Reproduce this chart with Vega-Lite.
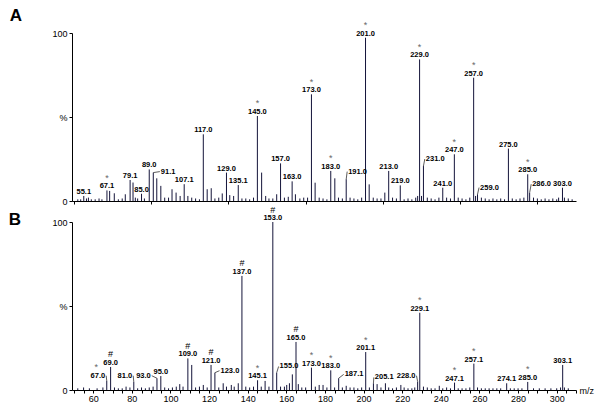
{
"$schema": "https://vega.github.io/schema/vega-lite/v6.json",
"background": "white",
"padding": {"left": 8, "top": 6, "right": 4, "bottom": 18},
"config": {
  "view": {"stroke": null},
  "font": "Liberation Sans",
  "axis": {"domainColor": "#000", "tickColor": "#000", "labelColor": "#000", "labelFont": "Liberation Sans", "labelFontSize": 9, "grid": false, "tickSize": 3, "domainWidth": 1, "tickWidth": 1, "labelPadding": 2}
},
"datasets": {
"peaks": [
{"p":"A","mz":52,"pct":1},{"p":"A","mz":53.5,"pct":1},{"p":"A","mz":55.1,"pct":3},{"p":"A","mz":56.5,"pct":1.5},{"p":"A","mz":57.5,"pct":2},{"p":"A","mz":59,"pct":1},{"p":"A","mz":61,"pct":1},{"p":"A","mz":63,"pct":1.5},{"p":"A","mz":64.5,"pct":1},{"p":"A","mz":67.1,"pct":6.3},{"p":"A","mz":68.5,"pct":6},{"p":"A","mz":70.9,"pct":4.6},{"p":"A","mz":73,"pct":1},{"p":"A","mz":75,"pct":1.5},{"p":"A","mz":76.6,"pct":4},{"p":"A","mz":79.1,"pct":12.5},{"p":"A","mz":80.6,"pct":11},{"p":"A","mz":81.8,"pct":2},{"p":"A","mz":83,"pct":1.5},{"p":"A","mz":85,"pct":4.3},{"p":"A","mz":86.5,"pct":1.5},{"p":"A","mz":89,"pct":18.8},{"p":"A","mz":91.1,"pct":16.9},{"p":"A","mz":92.9,"pct":13.5},{"p":"A","mz":95,"pct":9},{"p":"A","mz":97,"pct":2},{"p":"A","mz":99,"pct":2},{"p":"A","mz":100.8,"pct":7},{"p":"A","mz":102.9,"pct":5},{"p":"A","mz":105,"pct":3},{"p":"A","mz":107.1,"pct":10},{"p":"A","mz":109,"pct":3},{"p":"A","mz":111,"pct":2},{"p":"A","mz":113,"pct":1.5},{"p":"A","mz":115,"pct":1},{"p":"A","mz":117,"pct":39.7},{"p":"A","mz":119,"pct":7},{"p":"A","mz":121.1,"pct":7.6},{"p":"A","mz":123,"pct":1.5},{"p":"A","mz":125,"pct":2},{"p":"A","mz":126.8,"pct":4.5},{"p":"A","mz":129,"pct":16.9},{"p":"A","mz":130.7,"pct":3.5},{"p":"A","mz":132.7,"pct":3},{"p":"A","mz":135.1,"pct":9.5},{"p":"A","mz":137,"pct":1.5},{"p":"A","mz":139,"pct":1.5},{"p":"A","mz":141,"pct":1},{"p":"A","mz":143,"pct":2},{"p":"A","mz":145,"pct":50.6},{"p":"A","mz":147.2,"pct":16.9},{"p":"A","mz":149.3,"pct":3},{"p":"A","mz":151,"pct":1.5},{"p":"A","mz":153,"pct":1.5},{"p":"A","mz":155,"pct":4},{"p":"A","mz":157,"pct":22.4},{"p":"A","mz":159,"pct":2},{"p":"A","mz":161,"pct":2.5},{"p":"A","mz":163,"pct":11.7},{"p":"A","mz":164.7,"pct":4},{"p":"A","mz":167,"pct":1.5},{"p":"A","mz":169,"pct":2},{"p":"A","mz":171,"pct":2},{"p":"A","mz":173,"pct":63.5},{"p":"A","mz":174.9,"pct":10.9},{"p":"A","mz":177,"pct":2},{"p":"A","mz":179,"pct":1.5},{"p":"A","mz":181,"pct":1},{"p":"A","mz":183,"pct":17.9},{"p":"A","mz":185.1,"pct":13.5},{"p":"A","mz":187,"pct":2},{"p":"A","mz":189,"pct":1.5},{"p":"A","mz":191,"pct":13},{"p":"A","mz":193,"pct":2},{"p":"A","mz":195,"pct":1.5},{"p":"A","mz":197,"pct":1},{"p":"A","mz":199,"pct":2},{"p":"A","mz":201,"pct":97.2},{"p":"A","mz":202.9,"pct":9.9},{"p":"A","mz":205,"pct":2},{"p":"A","mz":207,"pct":1.5},{"p":"A","mz":209,"pct":1.5},{"p":"A","mz":211,"pct":5},{"p":"A","mz":213,"pct":17.9},{"p":"A","mz":215,"pct":2},{"p":"A","mz":217,"pct":1.5},{"p":"A","mz":219,"pct":9.3},{"p":"A","mz":221,"pct":1},{"p":"A","mz":223,"pct":1.5},{"p":"A","mz":225,"pct":1},{"p":"A","mz":227,"pct":2},{"p":"A","mz":228,"pct":3},{"p":"A","mz":229,"pct":84.3},{"p":"A","mz":230,"pct":3},{"p":"A","mz":231,"pct":20.8},{"p":"A","mz":233,"pct":2},{"p":"A","mz":235,"pct":1.5},{"p":"A","mz":237,"pct":1},{"p":"A","mz":239,"pct":2},{"p":"A","mz":241,"pct":7.9},{"p":"A","mz":243,"pct":2},{"p":"A","mz":245,"pct":1.5},{"p":"A","mz":247,"pct":27.8},{"p":"A","mz":249,"pct":2},{"p":"A","mz":251,"pct":1.5},{"p":"A","mz":253,"pct":1},{"p":"A","mz":255,"pct":2},{"p":"A","mz":257,"pct":73.4},{"p":"A","mz":258,"pct":3},{"p":"A","mz":259,"pct":4},{"p":"A","mz":261,"pct":2},{"p":"A","mz":263,"pct":1.5},{"p":"A","mz":265,"pct":1},{"p":"A","mz":267,"pct":1.5},{"p":"A","mz":269,"pct":1},{"p":"A","mz":271,"pct":1.5},{"p":"A","mz":273,"pct":1},{"p":"A","mz":275,"pct":31.2},{"p":"A","mz":277,"pct":1.5},{"p":"A","mz":279,"pct":1},{"p":"A","mz":281,"pct":1.5},{"p":"A","mz":283,"pct":2},{"p":"A","mz":285,"pct":15.9},{"p":"A","mz":286,"pct":5},{"p":"A","mz":288,"pct":2},{"p":"A","mz":290,"pct":1.5},{"p":"A","mz":292,"pct":1},{"p":"A","mz":294,"pct":1.5},{"p":"A","mz":296,"pct":1},{"p":"A","mz":298,"pct":1.5},{"p":"A","mz":300,"pct":1},{"p":"A","mz":301,"pct":2},{"p":"A","mz":303,"pct":7.9},{"p":"A","mz":304,"pct":2},{"p":"A","mz":306,"pct":1.5},{"p":"A","mz":308,"pct":1},
{"p":"B","mz":52,"pct":1},{"p":"B","mz":55,"pct":1.5},{"p":"B","mz":58,"pct":1},{"p":"B","mz":62,"pct":1},{"p":"B","mz":65,"pct":1.5},{"p":"B","mz":67,"pct":5.4},{"p":"B","mz":69,"pct":13.7},{"p":"B","mz":71,"pct":1.5},{"p":"B","mz":73,"pct":1},{"p":"B","mz":75,"pct":1},{"p":"B","mz":77,"pct":2},{"p":"B","mz":79,"pct":1.5},{"p":"B","mz":81,"pct":4.8},{"p":"B","mz":83,"pct":1},{"p":"B","mz":85,"pct":1.5},{"p":"B","mz":87,"pct":1},{"p":"B","mz":89,"pct":1.5},{"p":"B","mz":91,"pct":2},{"p":"B","mz":93,"pct":7},{"p":"B","mz":95,"pct":8.3},{"p":"B","mz":97,"pct":1.5},{"p":"B","mz":99,"pct":1},{"p":"B","mz":101,"pct":1.5},{"p":"B","mz":103,"pct":2},{"p":"B","mz":104.8,"pct":3.5},{"p":"B","mz":106.5,"pct":2},{"p":"B","mz":109,"pct":18.8},{"p":"B","mz":111,"pct":14.9},{"p":"B","mz":113,"pct":1.5},{"p":"B","mz":115,"pct":2},{"p":"B","mz":117,"pct":3},{"p":"B","mz":119,"pct":1.5},{"p":"B","mz":121,"pct":14.9},{"p":"B","mz":123,"pct":10.3},{"p":"B","mz":125,"pct":1.5},{"p":"B","mz":127.3,"pct":4},{"p":"B","mz":129,"pct":2},{"p":"B","mz":131.5,"pct":3},{"p":"B","mz":133,"pct":2},{"p":"B","mz":135.1,"pct":4},{"p":"B","mz":137,"pct":67.9},{"p":"B","mz":139,"pct":2},{"p":"B","mz":141,"pct":1.5},{"p":"B","mz":143,"pct":2},{"p":"B","mz":145.1,"pct":5.8},{"p":"B","mz":147,"pct":2},{"p":"B","mz":149,"pct":5.4},{"p":"B","mz":151,"pct":2},{"p":"B","mz":153,"pct":100},{"p":"B","mz":155,"pct":10.3},{"p":"B","mz":157,"pct":2},{"p":"B","mz":159,"pct":2},{"p":"B","mz":160.2,"pct":3},{"p":"B","mz":161.6,"pct":4},{"p":"B","mz":163.1,"pct":9.3},{"p":"B","mz":165,"pct":28.6},{"p":"B","mz":166.2,"pct":3.5},{"p":"B","mz":168,"pct":1.5},{"p":"B","mz":170,"pct":1.5},{"p":"B","mz":173,"pct":13.3},{"p":"B","mz":175,"pct":2},{"p":"B","mz":177,"pct":3},{"p":"B","mz":179,"pct":3},{"p":"B","mz":181,"pct":1.5},{"p":"B","mz":183,"pct":11.7},{"p":"B","mz":185,"pct":1.5},{"p":"B","mz":187.1,"pct":7},{"p":"B","mz":189,"pct":1.5},{"p":"B","mz":191,"pct":2.5},{"p":"B","mz":193,"pct":1.5},{"p":"B","mz":195,"pct":1.5},{"p":"B","mz":197,"pct":1},{"p":"B","mz":199,"pct":1.5},{"p":"B","mz":201.1,"pct":22.6},{"p":"B","mz":203,"pct":1.5},{"p":"B","mz":205.1,"pct":4},{"p":"B","mz":207,"pct":3.5},{"p":"B","mz":209,"pct":1.5},{"p":"B","mz":211.3,"pct":4},{"p":"B","mz":213,"pct":1.5},{"p":"B","mz":215,"pct":1},{"p":"B","mz":217,"pct":1.5},{"p":"B","mz":219.3,"pct":3},{"p":"B","mz":221,"pct":1.5},{"p":"B","mz":223,"pct":1},{"p":"B","mz":225,"pct":1},{"p":"B","mz":226.5,"pct":1.5},{"p":"B","mz":228,"pct":5},{"p":"B","mz":229.1,"pct":46},{"p":"B","mz":231,"pct":2},{"p":"B","mz":233,"pct":1.5},{"p":"B","mz":235,"pct":1},{"p":"B","mz":237,"pct":1},{"p":"B","mz":239.2,"pct":2.5},{"p":"B","mz":241,"pct":1},{"p":"B","mz":243,"pct":1.5},{"p":"B","mz":245,"pct":1},{"p":"B","mz":247.1,"pct":4.4},{"p":"B","mz":249,"pct":1},{"p":"B","mz":251,"pct":1},{"p":"B","mz":253,"pct":1},{"p":"B","mz":255,"pct":1.5},{"p":"B","mz":257.1,"pct":15.7},{"p":"B","mz":259,"pct":1.5},{"p":"B","mz":261,"pct":1},{"p":"B","mz":263,"pct":1},{"p":"B","mz":265,"pct":1},{"p":"B","mz":267,"pct":1},{"p":"B","mz":269,"pct":1},{"p":"B","mz":271,"pct":1},{"p":"B","mz":274.1,"pct":4},{"p":"B","mz":276,"pct":1},{"p":"B","mz":278,"pct":1},{"p":"B","mz":280,"pct":1},{"p":"B","mz":282,"pct":1},{"p":"B","mz":285,"pct":4.8},{"p":"B","mz":288,"pct":1},{"p":"B","mz":291,"pct":1},{"p":"B","mz":294,"pct":1},{"p":"B","mz":297,"pct":1},{"p":"B","mz":300,"pct":1},{"p":"B","mz":302,"pct":1.5},{"p":"B","mz":303.1,"pct":14.9},{"p":"B","mz":304,"pct":1.5},{"p":"B","mz":306,"pct":1}
],
"labels": [
{"p":"A","mz":55.1,"pct":3,"label":"55.1","tag":"","lmz":55.1,"lpct":3},
{"p":"A","mz":67.1,"pct":6.3,"label":"67.1","tag":"*","lmz":67.1,"lpct":6.3},
{"p":"A","mz":79.1,"pct":12.5,"label":"79.1","tag":"","lmz":79.1,"lpct":12.5},
{"p":"A","mz":85,"pct":4.3,"label":"85.0","tag":"","lmz":85,"lpct":4.3},
{"p":"A","mz":89,"pct":18.8,"label":"89.0","tag":"","lmz":89,"lpct":18.8},
{"p":"A","mz":91.1,"pct":16.9,"label":"91.1","tag":"","lmz":94.5,"lpct":17.5},
{"p":"A","mz":107.1,"pct":10,"label":"107.1","tag":"","lmz":107.1,"lpct":10},
{"p":"A","mz":117,"pct":39.7,"label":"117.0","tag":"","lmz":117,"lpct":39.7},
{"p":"A","mz":129,"pct":16.9,"label":"129.0","tag":"","lmz":129,"lpct":16.9},
{"p":"A","mz":135.1,"pct":9.5,"label":"135.1","tag":"","lmz":135.1,"lpct":9.5},
{"p":"A","mz":145,"pct":50.6,"label":"145.0","tag":"*","lmz":145,"lpct":50.6},
{"p":"A","mz":157,"pct":22.4,"label":"157.0","tag":"","lmz":157,"lpct":22.4},
{"p":"A","mz":163,"pct":11.7,"label":"163.0","tag":"","lmz":163,"lpct":11.7},
{"p":"A","mz":173,"pct":63.5,"label":"173.0","tag":"*","lmz":173,"lpct":63.5},
{"p":"A","mz":183,"pct":17.9,"label":"183.0","tag":"*","lmz":183,"lpct":17.9},
{"p":"A","mz":191,"pct":13,"label":"191.0","tag":"","lmz":191.5,"lpct":17.5},
{"p":"A","mz":201,"pct":97.2,"label":"201.0","tag":"*","lmz":201,"lpct":97.2},
{"p":"A","mz":213,"pct":17.9,"label":"213.0","tag":"","lmz":213,"lpct":17.9},
{"p":"A","mz":219,"pct":9.3,"label":"219.0","tag":"","lmz":219,"lpct":9.3},
{"p":"A","mz":229,"pct":84.3,"label":"229.0","tag":"*","lmz":229,"lpct":84.3},
{"p":"A","mz":231,"pct":20.8,"label":"231.0","tag":"","lmz":231.7,"lpct":25},
{"p":"A","mz":241,"pct":7.9,"label":"241.0","tag":"","lmz":241,"lpct":7.9},
{"p":"A","mz":247,"pct":27.8,"label":"247.0","tag":"*","lmz":247,"lpct":27.8},
{"p":"A","mz":257,"pct":73.4,"label":"257.0","tag":"*","lmz":257,"lpct":73.4},
{"p":"A","mz":259,"pct":4,"label":"259.0","tag":"","lmz":259.8,"lpct":8},
{"p":"A","mz":275,"pct":31.2,"label":"275.0","tag":"","lmz":275,"lpct":31.2},
{"p":"A","mz":285,"pct":15.9,"label":"285.0","tag":"*","lmz":285,"lpct":15.9},
{"p":"A","mz":286,"pct":5,"label":"286.0","tag":"","lmz":286.8,"lpct":10},
{"p":"A","mz":303,"pct":7.9,"label":"303.0","tag":"","lmz":303,"lpct":7.9},
{"p":"B","mz":67,"pct":5.4,"label":"67.0","tag":"*","lmz":66.7,"lpct":8.5},
{"p":"B","mz":69,"pct":13.7,"label":"69.0","tag":"#","lmz":69,"lpct":13.7},
{"p":"B","mz":81,"pct":4.8,"label":"81.0","tag":"","lmz":80.7,"lpct":8.5},
{"p":"B","mz":93,"pct":7,"label":"93.0","tag":"","lmz":90.3,"lpct":8.5},
{"p":"B","mz":95,"pct":8.3,"label":"95.0","tag":"","lmz":95,"lpct":8.3},
{"p":"B","mz":109,"pct":18.8,"label":"109.0","tag":"#","lmz":109,"lpct":18.8},
{"p":"B","mz":121,"pct":14.9,"label":"121.0","tag":"#","lmz":121,"lpct":14.9},
{"p":"B","mz":123,"pct":10.3,"label":"123.0","tag":"","lmz":125.4,"lpct":11.5},
{"p":"B","mz":137,"pct":67.9,"label":"137.0","tag":"#","lmz":137,"lpct":67.9},
{"p":"B","mz":145.1,"pct":5.8,"label":"145.1","tag":"*","lmz":145.1,"lpct":5.8},
{"p":"B","mz":153,"pct":100,"label":"153.0","tag":"#","lmz":153,"lpct":100},
{"p":"B","mz":155,"pct":10.3,"label":"155.0","tag":"","lmz":156,"lpct":14},
{"p":"B","mz":165,"pct":28.6,"label":"165.0","tag":"#","lmz":165,"lpct":28.6},
{"p":"B","mz":173,"pct":13.3,"label":"173.0","tag":"*","lmz":173,"lpct":13.3},
{"p":"B","mz":183,"pct":11.7,"label":"183.0","tag":"*","lmz":183,"lpct":11.7},
{"p":"B","mz":187.1,"pct":7,"label":"187.1","tag":"","lmz":189.7,"lpct":9.3},
{"p":"B","mz":201.1,"pct":22.6,"label":"201.1","tag":"*","lmz":201.1,"lpct":22.6},
{"p":"B","mz":205.1,"pct":4,"label":"205.1","tag":"","lmz":205.3,"lpct":7.5},
{"p":"B","mz":228,"pct":5,"label":"228.0","tag":"","lmz":227.4,"lpct":8.5},
{"p":"B","mz":229.1,"pct":46,"label":"229.1","tag":"*","lmz":229.1,"lpct":46},
{"p":"B","mz":247.1,"pct":4.4,"label":"247.1","tag":"*","lmz":247.1,"lpct":4.4},
{"p":"B","mz":257.1,"pct":15.7,"label":"257.1","tag":"*","lmz":257.1,"lpct":15.7},
{"p":"B","mz":274.1,"pct":4,"label":"274.1","tag":"","lmz":274.1,"lpct":4},
{"p":"B","mz":285,"pct":4.8,"label":"285.0","tag":"*","lmz":285,"lpct":4.8},
{"p":"B","mz":303.1,"pct":14.9,"label":"303.1","tag":"","lmz":303.1,"lpct":14.9}
]
},
"spacing": 21,
"bounds": "flush",
"vconcat": [
{
 "width": 504, "height": 168,
 "layer": [
  {"data": {"name": "peaks"}, "transform": [{"filter": "datum.p == 'A'"}],
   "mark": {"type": "rule", "color": "#14143a", "strokeWidth": 1},
   "encoding": {
    "x": {"field": "mz", "type": "quantitative", "scale": {"domain": [49, 310], "nice": false, "zero": false},
          "axis": {"values": [50,55,60,65,70,75,80,85,90,95,100,105,110,115,120,125,130,135,140,145,150,155,160,165,170,175,180,185,190,195,200,205,210,215,220,225,230,235,240,245,250,255,260,265,270,275,280,285,290,295,300,305,310], "labels": false, "title": null}},
    "y": {"field": "pct", "type": "quantitative", "scale": {"domain": [0, 100], "nice": false},
          "axis": {"values": [0, 50, 100], "labelExpr": "datum.value == 50 ? '%' : datum.label", "title": "A", "titleAngle": 0, "titleX": -56.5, "titleY": -18, "titleAlign": "center", "titleBaseline": "middle", "titleFontSize": 17, "titleFontWeight": "bold", "titleFont": "Liberation Sans", "titleColor": "#000"}},
    "y2": {"datum": 0}
   }},
  {"data": {"name": "labels"}, "transform": [{"filter": "datum.p == 'A' && datum.lmz != datum.mz"}],
   "mark": {"type": "rule", "color": "#333", "strokeWidth": 0.8},
   "encoding": {"x": {"field": "mz", "type": "quantitative"}, "y": {"field": "pct", "type": "quantitative"}, "x2": {"field": "lmz"}, "y2": {"field": "lpct"}}},
  {"data": {"name": "labels"}, "transform": [{"filter": "datum.p == 'A' && datum.lmz == datum.mz"}],
   "mark": {"type": "text", "fontSize": 7.5, "fontWeight": "bold", "baseline": "alphabetic", "align": "center", "dy": -2, "color": "#000"},
   "encoding": {"x": {"field": "lmz", "type": "quantitative"}, "y": {"field": "lpct", "type": "quantitative"}, "text": {"field": "label"}}},
  {"data": {"name": "labels"}, "transform": [{"filter": "datum.p == 'A' && datum.lmz > datum.mz"}],
   "mark": {"type": "text", "fontSize": 7.5, "fontWeight": "bold", "baseline": "middle", "align": "left", "dx": 1, "color": "#000"},
   "encoding": {"x": {"field": "lmz", "type": "quantitative"}, "y": {"field": "lpct", "type": "quantitative"}, "text": {"field": "label"}}},
  {"data": {"name": "labels"}, "transform": [{"filter": "datum.p == 'A' && datum.lmz == datum.mz && datum.tag != ''"}],
   "mark": {"type": "text", "fontSize": 9, "baseline": "alphabetic", "align": "center", "dy": -9.5},
   "encoding": {"x": {"field": "lmz", "type": "quantitative"}, "y": {"field": "lpct", "type": "quantitative"}, "text": {"field": "tag"},
     "color": {"condition": {"test": "datum.tag == '*'", "value": "#666"}, "value": "#000"}}}
 ]
},
{
 "width": 504, "height": 168,
 "resolve": {"axis": {"x": "independent"}},
 "layer": [
  {"data": {"name": "peaks"}, "transform": [{"filter": "datum.p == 'B'"}],
   "mark": {"type": "rule", "color": "#14143a", "strokeWidth": 1},
   "encoding": {
    "x": {"field": "mz", "type": "quantitative", "scale": {"domain": [49, 310], "nice": false, "zero": false},
          "axis": {"orient": "bottom", "values": [60,80,100,120,140,160,180,200,220,240,260,280,300], "labelFlush": false, "labelPadding": 1, "title": "m/z", "titleX": 507, "titleY": 0, "titleAlign": "left", "titleBaseline": "middle", "titleFontSize": 9, "titleFontWeight": "normal", "titleFont": "Liberation Sans", "titleColor": "#000"}},
    "y": {"field": "pct", "type": "quantitative", "scale": {"domain": [0, 100], "nice": false},
          "axis": {"values": [0, 50, 100], "labelExpr": "datum.value == 50 ? '%' : datum.label", "title": "B", "titleAngle": 0, "titleX": -57.7, "titleY": -3, "titleAlign": "center", "titleBaseline": "middle", "titleFontSize": 17, "titleFontWeight": "bold", "titleFont": "Liberation Sans", "titleColor": "#000"}},
    "y2": {"datum": 0}
   }},
  {"data": {"name": "labels"}, "transform": [{"filter": "datum.p == 'B' && datum.lmz != datum.mz"}],
   "mark": {"type": "rule", "color": "#333", "strokeWidth": 0.8},
   "encoding": {"x": {"field": "mz", "type": "quantitative", "axis": {"orient": "bottom", "values": [50,55,65,70,75,85,90,95,105,110,115,125,130,135,145,150,155,165,170,175,185,190,195,205,210,215,225,230,235,245,250,255,265,270,275,285,290,295,305,310], "labels": false, "domain": false, "title": null}}, "y": {"field": "pct", "type": "quantitative"}, "x2": {"field": "lmz"}, "y2": {"field": "lpct"}}},
  {"data": {"name": "labels"}, "transform": [{"filter": "datum.p == 'B' && datum.lmz == datum.mz"}],
   "mark": {"type": "text", "fontSize": 7.5, "fontWeight": "bold", "baseline": "alphabetic", "align": "center", "dy": -2, "color": "#000"},
   "encoding": {"x": {"field": "lmz", "type": "quantitative", "axis": null}, "y": {"field": "lpct", "type": "quantitative"}, "text": {"field": "label"}}},
  {"data": {"name": "labels"}, "transform": [{"filter": "datum.p == 'B' && datum.lmz > datum.mz"}],
   "mark": {"type": "text", "fontSize": 7.5, "fontWeight": "bold", "baseline": "middle", "align": "left", "dx": 1, "color": "#000"},
   "encoding": {"x": {"field": "lmz", "type": "quantitative", "axis": null}, "y": {"field": "lpct", "type": "quantitative"}, "text": {"field": "label"}}},
  {"data": {"name": "labels"}, "transform": [{"filter": "datum.p == 'B' && datum.lmz < datum.mz"}],
   "mark": {"type": "text", "fontSize": 7.5, "fontWeight": "bold", "baseline": "middle", "align": "right", "dx": -1, "color": "#000"},
   "encoding": {"x": {"field": "lmz", "type": "quantitative", "axis": null}, "y": {"field": "lpct", "type": "quantitative"}, "text": {"field": "label"}}},
  {"data": {"name": "labels"}, "transform": [{"filter": "datum.p == 'B' && datum.lmz == datum.mz && datum.tag != ''"}],
   "mark": {"type": "text", "fontSize": 9, "baseline": "alphabetic", "align": "center", "dy": -9.5},
   "encoding": {"x": {"field": "lmz", "type": "quantitative", "axis": null}, "y": {"field": "lpct", "type": "quantitative"}, "text": {"field": "tag"},
     "color": {"condition": {"test": "datum.tag == '*'", "value": "#666"}, "value": "#000"}}},
  {"data": {"name": "labels"}, "transform": [{"filter": "datum.p == 'B' && datum.lmz < datum.mz && datum.tag != ''"}],
   "mark": {"type": "text", "fontSize": 9, "baseline": "alphabetic", "align": "center", "dx": -10, "dy": -5.5},
   "encoding": {"x": {"field": "lmz", "type": "quantitative", "axis": null}, "y": {"field": "lpct", "type": "quantitative"}, "text": {"field": "tag"},
     "color": {"condition": {"test": "datum.tag == '*'", "value": "#666"}, "value": "#000"}}}
 ]
}
]
}
